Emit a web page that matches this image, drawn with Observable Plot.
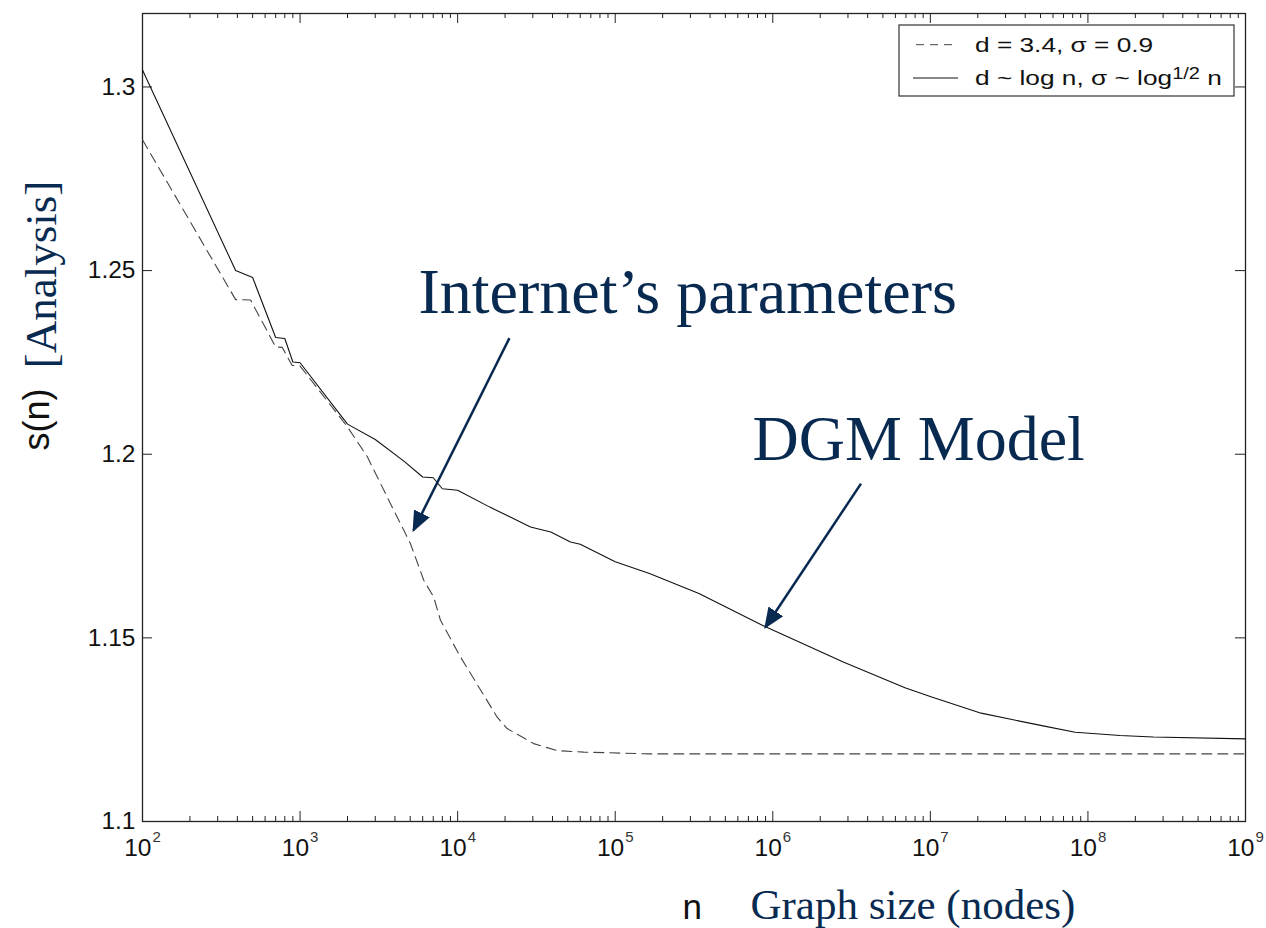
<!DOCTYPE html>
<html>
<head>
<meta charset="utf-8">
<script src="https://cdn.jsdelivr.net/npm/d3@7"></script>
<script src="https://cdn.jsdelivr.net/npm/@observablehq/plot@0.6"></script>
<style>
  body { margin: 0; background: #fff; }
  #wrap { position: relative; width: 1266px; height: 928px; overflow: hidden; }
  #legend { position: absolute; left: 898px; top: 24px; }
</style>
</head>
<body>
<div id="wrap"></div>
<script>
// ---------- data ----------
const solidN = [100, 390, 500, 700, 800, 900, 1000, 2000, 3000, 4600, 6000, 7000, 8000, 10000, 16000, 29000, 39000, 52000, 60000, 100000, 165000, 340000, 900000, 2.8e6, 6.9e6, 1.02e7, 2.1e7, 5.1e7, 8.3e7, 1.6e8, 2.6e8, 1e9];
const solidS = [1.3046, 1.2500, 1.2481, 1.2318, 1.2315, 1.2251, 1.2249, 1.2082, 1.2040, 1.1980, 1.1938, 1.1936, 1.1906, 1.1902, 1.1856, 1.1802, 1.1788, 1.1761, 1.1755, 1.1707, 1.1675, 1.1621, 1.1530, 1.1434, 1.1364, 1.1339, 1.1295, 1.1261, 1.1243, 1.1234, 1.1230, 1.1225];

const dashN = [100, 390, 485, 700, 770, 890, 1000, 1995, 2672, 3936, 5012, 6095, 7047, 7780, 10420, 17820, 20620, 30410, 42800, 63100, 166000, 1e9];
const dashS = [1.2856, 1.2421, 1.2420, 1.2292, 1.2291, 1.2242, 1.2240, 1.2075, 1.1993, 1.1847, 1.1757, 1.1657, 1.1611, 1.1548, 1.1448, 1.1284, 1.1253, 1.1212, 1.1193, 1.1189, 1.1184, 1.1184];

const yTicks = [1.1, 1.15, 1.2, 1.25, 1.3];
const yTickLabels = ["1.1", "1.15", "1.2", "1.25", "1.3"];
const decades = [2, 3, 4, 5, 6, 7, 8, 9];

const legendLabels = ["d = 3.4, σ = 0.9", "d ~ log n, σ ~ log", "1/2", " n"];
const annotations = [
  {label: "Internet\u2019s parameters", n: 5640, s: 1.2384},
  {label: "DGM Model", n: 7.43e5, s: 1.1984}
];
const arrows = [
  {n1: 2.132e4, s1: 1.2316, n2: 5244, s2: 1.1793},
  {n1: 3.63e6, s1: 1.1920, n2: 8.97e5, s2: 1.1529}
];
const yLabelA = "s(n)", yLabelB = "[Analysis]";
const xLabelA = "n", xLabelB = "Graph size (nodes)";

// ---------- build ----------
const solid = solidN.map((n, i) => ({n, s: solidS[i]}));
const dashed = dashN.map((n, i) => ({n, s: dashS[i]}));
const majorX = decades.map(k => 10 ** k);
const minorX = [];
for (const k of decades.slice(0, -1)) for (let m = 2; m <= 9; m++) minorX.push(m * 10 ** k);

const W = 1266, H = 928, mL = 142, mR = 21, mT = 13, mB = 107;
const fw = W - mL - mR, fh = H - mT - mB;
const navy = "#082a50";
const sans = "'Liberation Sans', Arial, sans-serif";
const serif = "'Liberation Serif', 'Times New Roman', serif";
const axisColor = "#222";

const chart = Plot.plot({
  width: W, height: H,
  marginLeft: mL, marginRight: mR, marginTop: mT, marginBottom: mB,
  x: {type: "log", domain: [1e2, 1e9], axis: null},
  y: {domain: [1.1, 1.32], axis: null},
  style: {background: "white", fontFamily: sans, overflow: "visible"},
  marks: [
    Plot.frame({stroke: axisColor, strokeWidth: 1.3}),
    Plot.ruleX(majorX, {x: d => d, insetTop: fh - 10, stroke: axisColor}),
    Plot.ruleX(majorX, {x: d => d, insetBottom: fh - 10, stroke: axisColor}),
    Plot.ruleX(minorX, {x: d => d, insetTop: fh - 5, stroke: axisColor}),
    Plot.ruleX(minorX, {x: d => d, insetBottom: fh - 5, stroke: axisColor}),
    Plot.ruleY(yTicks, {y: d => d, insetRight: fw - 10, stroke: axisColor}),
    Plot.ruleY(yTicks, {y: d => d, insetLeft: fw - 10, stroke: axisColor}),
    Plot.line(dashed, {x: "n", y: "s", stroke: "#444", strokeWidth: 1.1, strokeDasharray: "10,6"}),
    Plot.line(solid, {x: "n", y: "s", stroke: "#111", strokeWidth: 1.1}),
    Plot.text(yTicks, {y: d => d, text: (d, i) => yTickLabels[i], frameAnchor: "left", textAnchor: "end", dx: -7, fontSize: 24.5, fill: "#111", fontFamily: sans}),
    Plot.text(majorX, {x: d => d, text: () => "10", frameAnchor: "bottom", textAnchor: "end", lineAnchor: "top", dx: 9, dy: 17, fontSize: 24.5, fill: "#111", fontFamily: sans}),
    Plot.text(majorX, {x: d => d, text: (d, i) => String(decades[i]), frameAnchor: "bottom", textAnchor: "start", lineAnchor: "top", dx: 10, dy: 10, fontSize: 15, fill: "#333", fontFamily: sans}),
    Plot.link(arrows, {x1: "n1", y1: "s1", x2: "n2", y2: "s2", stroke: navy, strokeWidth: 2.5, ariaLabel: "arrow-link"}),
    Plot.text(annotations, {x: "n", y: "s", text: "label", textAnchor: "start", lineAnchor: "bottom", fontSize: 64, fontFamily: serif, fill: navy}),
    Plot.text([yLabelA], {text: d => d, frameAnchor: "left", textAnchor: "middle", rotate: -90, dx: -105, dy: 2, fontSize: 36, fontFamily: sans, fill: "#111"}),
    Plot.text([yLabelB], {text: d => d, frameAnchor: "left", textAnchor: "middle", rotate: -90, dx: -101, dy: -143, fontSize: 45, fontFamily: serif, fill: navy}),
    Plot.text([xLabelA], {text: d => d, frameAnchor: "bottom", textAnchor: "start", lineAnchor: "bottom", dx: -11.5, dy: 97, fontSize: 35, fontFamily: sans, fill: "#111"}),
    Plot.text([xLabelB], {text: d => d, frameAnchor: "bottom", textAnchor: "start", lineAnchor: "bottom", dx: 56.5, dy: 97, fontSize: 43, fontFamily: serif, fill: navy})
  ]
});
const wrap = document.getElementById("wrap");
wrap.appendChild(chart);

// filled arrowheads on the link mark
const svg = d3.select(chart);
const defs = svg.insert("defs", ":first-child");
const mk = defs.append("marker").attr("id", "filled-head")
  .attr("viewBox", "0 -5 10 10").attr("refX", 9).attr("refY", 0)
  .attr("markerUnits", "userSpaceOnUse").attr("markerWidth", 21).attr("markerHeight", 21)
  .attr("orient", "auto");
mk.append("path").attr("d", "M0,-4.2L10,0L0,4.2Z").attr("fill", navy);
svg.selectAll("g[aria-label='arrow-link'] path, g[aria-label='link'] path").attr("marker-end", "url(#filled-head)");

// ---------- legend ----------
const lg = d3.select(wrap).append("svg").attr("id", "legend").attr("width", 337).attr("height", 73);
lg.append("rect").attr("x", 1).attr("y", 1).attr("width", 335).attr("height", 71).attr("fill", "white").attr("stroke", "#333").attr("stroke-width", 1.2);
lg.append("line").attr("x1", 18).attr("x2", 58).attr("y1", 20.7).attr("y2", 20.7).attr("stroke", "#444").attr("stroke-dasharray", "8,6");
lg.append("text").attr("transform", "translate(77,27.8) scale(1.25,1)").attr("font-family", sans).attr("font-size", 21).attr("fill", "#111").text(legendLabels[0]);
lg.append("line").attr("x1", 15).attr("x2", 60).attr("y1", 54).attr("y2", 54).attr("stroke", "#111");
const t2 = lg.append("text").attr("transform", "translate(77,61.2) scale(1.25,1)").attr("font-family", sans).attr("font-size", 21).attr("fill", "#111");
t2.append("tspan").text(legendLabels[1]);
t2.append("tspan").attr("dy", -6).attr("font-size", 16).text(legendLabels[2]);
t2.append("tspan").attr("dy", 6).text(legendLabels[3]);
</script>
</body>
</html>
